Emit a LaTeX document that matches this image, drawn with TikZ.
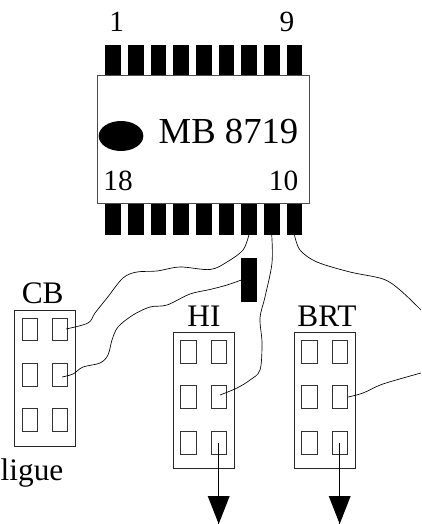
\documentclass[tikz,border=0pt]{standalone}
\usepackage{fontspec}
\usetikzlibrary{shapes.geometric}
\setmainfont{Liberation Serif}
\begin{document}
\begin{tikzpicture}[x=0.75pt,y=-0.75pt,
  pinbox/.style={draw=black,fill=black,line width=0.4pt,minimum width=11pt,minimum height=22.6pt,inner sep=0pt,outer sep=0pt},
  body/.style={draw=black!70,line width=0.75pt,fill=white,minimum width=159pt,minimum height=96.2pt,inner sep=0pt,outer sep=0pt},
  conn/.style={draw=black!85,line width=0.65pt,fill=white,minimum width=45.5pt,minimum height=102pt,inner sep=0pt,outer sep=0pt},
  hole/.style={draw=black!80,line width=0.65pt,minimum width=11.5pt,minimum height=17pt,inner sep=0pt,outer sep=0pt},
  wire/.style={draw=black,line width=0.5pt},
  lbl/.style={anchor=base,inner sep=0pt,font=\fontsize{22}{22}\selectfont},
  capl/.style={anchor=base,inner sep=0pt,font=\fontsize{23.5}{23.5}\selectfont},
  bigl/.style={anchor=base,inner sep=0pt,font=\fontsize{27.5}{27.5}\selectfont},
  head/.style={fill=black,draw=none}]
\useasboundingbox (0,0) rectangle (421,524);
% pins
\foreach \i in {1,...,9}{
  \node[pinbox] (t\i) at ({113+(\i-1)*22.67},60.7) {};
  \node[pinbox] (b\i) at ({113+(\i-1)*22.67},219.3) {};
}
\node[body] (chip) at (203.3,139.8) {};
\node[draw=none,fill=black,ellipse,minimum width=33.5pt,minimum height=22.5pt,inner sep=0pt] (dot) at (121,136) {};
\node[bigl] (name) at (228.5,143) {MB 8719};
\node[lbl] (n1) at (116.7,31.7) {1};
\node[lbl] (n9) at (287,31.7) {9};
\node[lbl] (n18) at (118,190) {18};
\node[lbl] (n10) at (283.5,190) {10};
% bar
\node[draw=none,fill=black,minimum width=11.5pt,minimum height=33.5pt,inner sep=0pt,outer sep=0pt] (bar) at (249,280) {};
% connectors
\node[conn] (cb) at (44.8,378.3) {};
\node[conn] (hi) at (203.7,400.8) {};
\node[conn] (brt) at (324.7,400.8) {};
\foreach \r/\dy in {1/-45.4,2/0,3/45.4}{
  \node[hole] (cbl\r) at (29.7,{374.7+\dy}) {};
  \node[hole] (cbr\r) at (60,{374.7+\dy}) {};
  \node[hole] (hil\r) at (188.5,{397.2+\dy}) {};
  \node[hole] (hir\r) at (218.7,{397.2+\dy}) {};
  \node[hole] (brtl\r) at (309.5,{397.2+\dy}) {};
  \node[hole] (brtr\r) at (339.7,{397.2+\dy}) {};
}
\node[capl] (cbt) at (42.7,303) {CB};
\node[capl] (hit) at (204,326) {HI};
\node[capl] (brtt) at (327,326) {BRT};
\node[capl] (lig) at (32,480.7) {ligue};
% free ends
\coordinate (e1) at (66,329);
\coordinate (e2) at (62,377);
\coordinate (e3) at (220,395);
\coordinate (e4) at (421,310);
\coordinate (e5) at (421,373);
% wires
\draw[wire] plot[smooth,tension=0.55] coordinates {(b7.south) (243,250) (227,262) (210,269.5) (180,267) (157,271) (137,272) (123,278) (107,298) (95,313) (88,323) (e1)};
\draw[wire] plot[smooth,tension=0.55] coordinates {(bar.west) (227,285) (210,289.5) (190,294) (167,305) (150,307) (133,315) (118,327) (112,340) (108,355) (100,363) (83,367) (73,374) (e2)};
\draw[wire] plot[smooth,tension=0.55] coordinates {(b8.south) (272,263) (265,297) (260,318) (262,343) (260,370) (250,380) (237,388) (e3)};
\draw[wire] plot[smooth,tension=0.55] coordinates {(b9.south) (300,250) (317,262) (350,272) (383,279) (400,290) (e4)};
\draw[wire] plot[smooth,tension=0.55] coordinates {(brtr2.east) (363,393) (383,384) (e5)};
% arrows
\coordinate (tipa) at (218.7,524);
\coordinate (tipb) at (339.7,524);
\draw[wire] (hir3.center) -- (tipa);
\draw[wire] (brtr3.center) -- (tipb);
\fill[head] (207.7,496) -- (229.7,496) -- (tipa) -- cycle;
\fill[head] (328.7,496) -- (350.7,496) -- (tipb) -- cycle;
\end{tikzpicture}
\end{document}
